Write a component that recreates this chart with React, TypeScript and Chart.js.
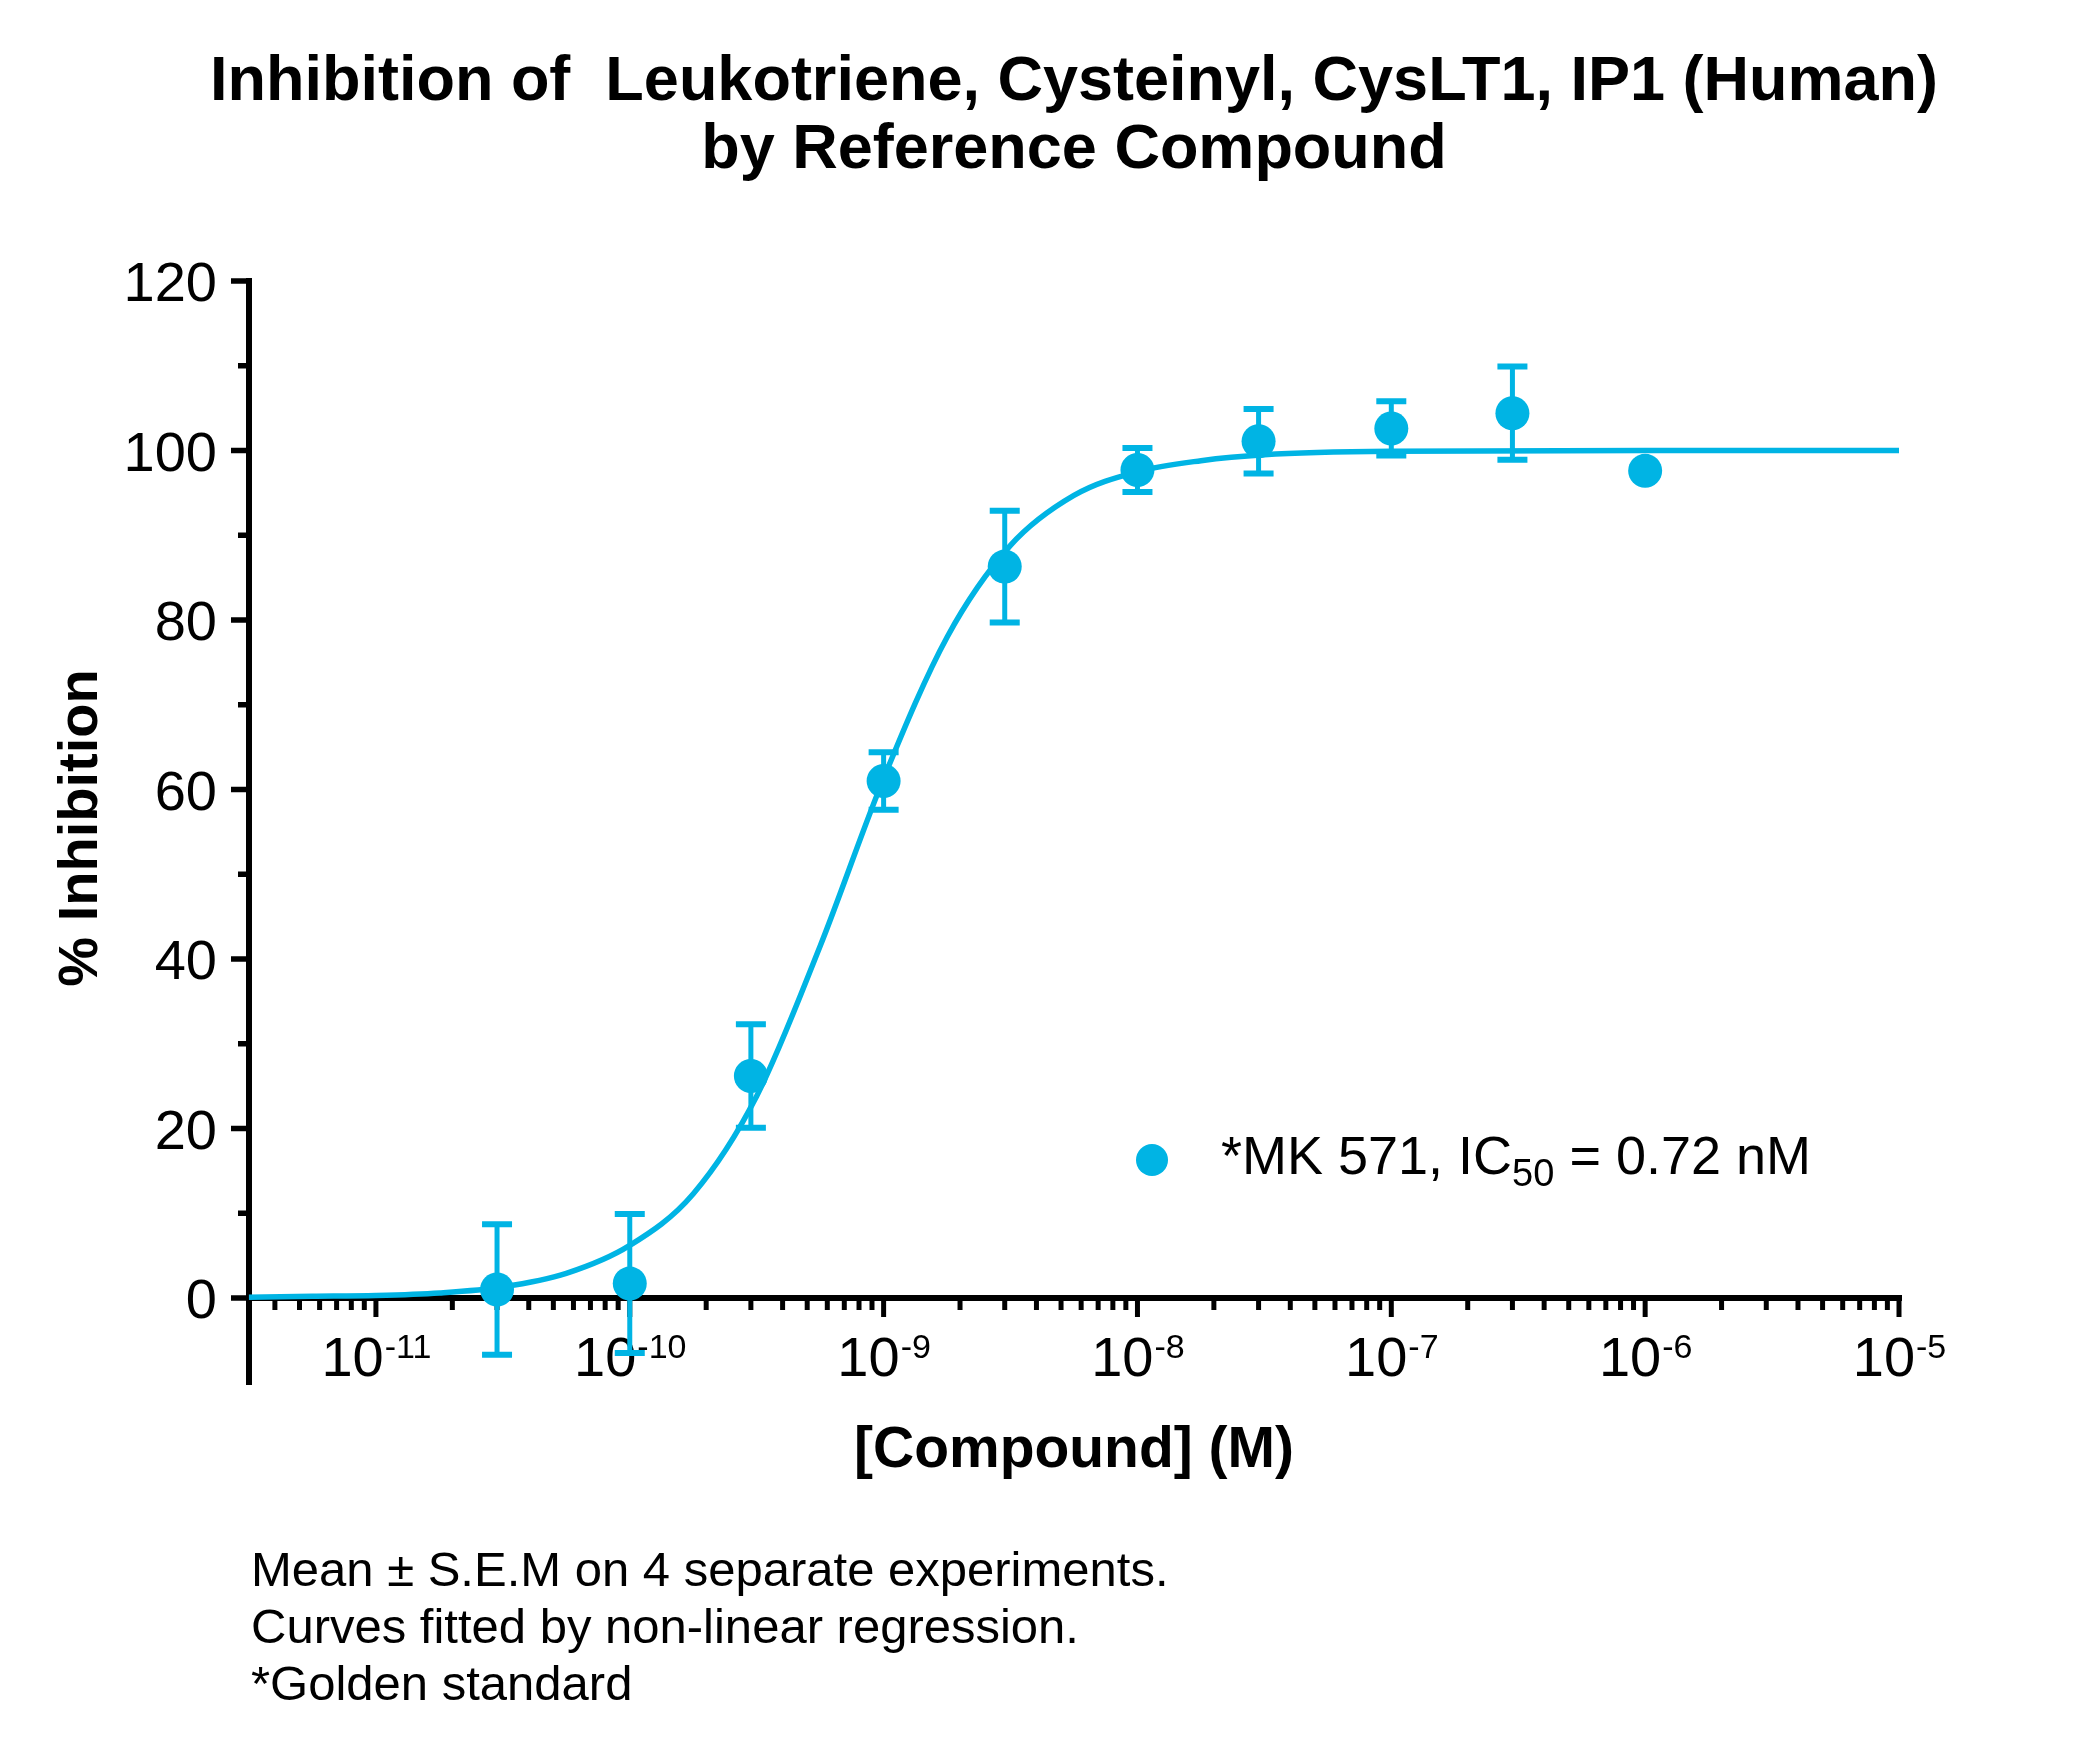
import React, { useEffect, useRef } from "react";
import { Chart, registerables } from "chart.js";

Chart.register(...registerables);

// ---------- data ----------
const titleLines = [
  "Inhibition of  Leukotriene, Cysteinyl, CysLT1, IP1 (Human)",
  "by Reference Compound",
];
const xAxisTitle = "[Compound] (M)";
const yAxisTitle = "% Inhibition";
const footnotes = [
  "Mean \u00B1 S.E.M on 4 separate experiments.",
  "Curves fitted by non-linear regression.",
  "*Golden standard",
];
const seriesName = "*MK 571";
const ic50Label = "0.72 nM";

// measured concentrations (M), mean % inhibition and S.E.M.
const concentrations = [3e-11, 1e-10, 3e-10, 1e-9, 3e-9, 1e-8, 3e-8, 1e-7, 3e-7, 1e-6];
const meanInhibition = [1.0, 1.7, 26.2, 61.0, 86.3, 97.7, 101.1, 102.6, 104.4, 97.6];
const semInhibition = [7.7, 8.2, 6.1, 3.4, 6.6, 2.6, 3.8, 3.2, 5.5, 0];

// fitted curve
const curveConcentrations = [
  3.16e-12, 5.62e-12, 1e-11, 1.78e-11, 3.16e-11, 5.62e-11, 1e-10, 1.78e-10, 3.16e-10,
  5.62e-10, 1e-9, 1.78e-9, 3.16e-9, 5.62e-9, 1e-8, 1.78e-8, 3.16e-8, 1e-7, 1e-6, 1e-5,
];
const curveInhibition = [
  0.1, 0.2, 0.3, 0.6, 1.3, 2.9, 6.2, 12.3, 23.8, 41.5, 61.3, 78.0, 88.8, 94.7, 97.5, 98.8,
  99.5, 99.9, 100, 100,
];

// axis ticks
const xMin = 3.1623e-12;
const xMax = 1e-5;
const xMajorExponents = [-11, -10, -9, -8, -7, -6, -5];
const xMinorMultipliers = [2, 3, 4, 5, 6, 7, 8, 9];
const yMin = 0;
const yMax = 120;
const yMajorTicks = [0, 20, 40, 60, 80, 100, 120];
const yMinorTicks = [10, 30, 50, 70, 90, 110];

// ---------- styles ----------
const COLOR = "rgb(0,180,228)";
const FONT = "'Liberation Sans', Arial, Helvetica, sans-serif";
const W = 2079;
const H = 1752;

const decorPlugin = {
  id: "decor",
  beforeDatasetsDraw(chart: any) {
    const ctx = chart.ctx as CanvasRenderingContext2D;
    const xs = chart.scales.x;
    const ys = chart.scales.y;
    const x0 = xs.getPixelForValue(xMin);
    const x1 = xs.getPixelForValue(xMax);
    const y0 = ys.getPixelForValue(yMin);
    const yTop = ys.getPixelForValue(yMax);
    ctx.save();
    ctx.strokeStyle = "#000";
    ctx.lineCap = "butt";

    // y axis line (extends below the x axis)
    ctx.lineWidth = 6;
    ctx.beginPath();
    ctx.moveTo(x0, yTop - 3);
    ctx.lineTo(x0, y0 + 87);
    ctx.stroke();
    // x axis line
    ctx.beginPath();
    ctx.moveTo(x0, y0);
    ctx.lineTo(x1 + 3, y0);
    ctx.stroke();

    // y ticks
    ctx.lineWidth = 5.5;
    for (const v of yMajorTicks) {
      const p = ys.getPixelForValue(v);
      ctx.beginPath();
      ctx.moveTo(x0, p);
      ctx.lineTo(x0 - 18, p);
      ctx.stroke();
    }
    for (const v of yMinorTicks) {
      const p = ys.getPixelForValue(v);
      ctx.beginPath();
      ctx.moveTo(x0, p);
      ctx.lineTo(x0 - 11, p);
      ctx.stroke();
    }
    // x ticks
    ctx.lineWidth = 5;
    for (const e of xMajorExponents) {
      const p = xs.getPixelForValue(Math.pow(10, e));
      ctx.beginPath();
      ctx.moveTo(p, y0);
      ctx.lineTo(p, y0 + 19);
      ctx.stroke();
    }
    for (let e = -12; e < -5; e++) {
      for (const m of xMinorMultipliers) {
        const v = m * Math.pow(10, e);
        if (v < xMin || v > xMax) continue;
        const p = xs.getPixelForValue(v);
        ctx.beginPath();
        ctx.moveTo(p, y0);
        ctx.lineTo(p, y0 + 12);
        ctx.stroke();
      }
    }

    // y tick labels
    ctx.fillStyle = "#000";
    ctx.font = `56px ${FONT}`;
    ctx.textAlign = "right";
    ctx.textBaseline = "alphabetic";
    for (const v of yMajorTicks) {
      const p = ys.getPixelForValue(v);
      ctx.fillText(String(v), x0 - 32, p + 20);
    }
    // x tick labels 10^n
    ctx.textAlign = "left";
    for (const e of xMajorExponents) {
      const p = xs.getPixelForValue(Math.pow(10, e));
      ctx.font = `56px ${FONT}`;
      const w1 = ctx.measureText("10").width;
      ctx.font = `34px ${FONT}`;
      const sup = String(e);
      const w2 = ctx.measureText(sup).width;
      const start = p - (w1 + w2) / 2;
      ctx.font = `56px ${FONT}`;
      ctx.fillText("10", start, y0 + 78);
      ctx.font = `34px ${FONT}`;
      ctx.fillText(sup, start + w1 + 1, y0 + 60);
    }

    // error bars
    ctx.strokeStyle = COLOR;
    for (let i = 0; i < concentrations.length; i++) {
      const s = semInhibition[i];
      if (!s) continue;
      const px = xs.getPixelForValue(concentrations[i]);
      const pTop = ys.getPixelForValue(meanInhibition[i] + s);
      const pBot = ys.getPixelForValue(meanInhibition[i] - s);
      ctx.lineWidth = 5;
      ctx.beginPath();
      ctx.moveTo(px, pTop);
      ctx.lineTo(px, pBot);
      ctx.stroke();
      ctx.lineWidth = 6;
      ctx.beginPath();
      ctx.moveTo(px - 15, pTop);
      ctx.lineTo(px + 15, pTop);
      ctx.moveTo(px - 15, pBot);
      ctx.lineTo(px + 15, pBot);
      ctx.stroke();
    }
    ctx.restore();
  },
  afterDraw(chart: any) {
    const ctx = chart.ctx as CanvasRenderingContext2D;
    const area = chart.chartArea;
    const cx = (area.left + area.right) / 2;
    ctx.save();
    ctx.fillStyle = "#000";
    ctx.textBaseline = "alphabetic";

    // title
    ctx.textAlign = "center";
    ctx.font = `bold 63px ${FONT}`;
    ctx.fillText(titleLines[0], cx, 100);
    ctx.fillText(titleLines[1], cx, 168);

    // x axis title
    ctx.font = `bold 57px ${FONT}`;
    ctx.fillText(xAxisTitle, cx, 1467);

    // y axis title
    ctx.save();
    ctx.translate(97, 828);
    ctx.rotate(-Math.PI / 2);
    ctx.font = `bold 56px ${FONT}`;
    ctx.fillText(yAxisTitle, 0, 0);
    ctx.restore();

    // footnotes
    ctx.textAlign = "left";
    ctx.font = `49px ${FONT}`;
    footnotes.forEach((t, i) => ctx.fillText(t, 251, 1586 + i * 57));

    // legend
    ctx.fillStyle = COLOR;
    ctx.beginPath();
    ctx.arc(1152, 1160, 16, 0, Math.PI * 2);
    ctx.fill();
    ctx.fillStyle = "#000";
    let tx = 1221;
    ctx.font = `54px ${FONT}`;
    const a = `${seriesName}, IC`;
    ctx.fillText(a, tx, 1174);
    tx += ctx.measureText(a).width;
    ctx.font = `38px ${FONT}`;
    ctx.fillText("50", tx, 1186);
    tx += ctx.measureText("50").width;
    ctx.font = `54px ${FONT}`;
    ctx.fillText(` = ${ic50Label}`, tx, 1174);
    ctx.restore();
  },
};

export default function App() {
  const ref = useRef<HTMLCanvasElement | null>(null);
  useEffect(() => {
    document.body.style.margin = "0";
    if (!ref.current) return;
    const chart = new Chart(ref.current, {
      type: "scatter",
      data: {
        datasets: [
          {
            type: "scatter",
            label: seriesName,
            data: concentrations.map((x, i) => ({ x, y: meanInhibition[i] })),
            pointRadius: 17,
            pointHoverRadius: 17,
            backgroundColor: COLOR,
            borderWidth: 0,
            clip: false,
          } as any,
          {
            type: "line",
            label: "fit",
            data: curveConcentrations.map((x, i) => ({ x, y: curveInhibition[i] })),
            borderColor: COLOR,
            borderWidth: 5.5,
            pointRadius: 0,
            fill: false,
            cubicInterpolationMode: "monotone",
            clip: false,
          } as any,
        ],
      },
      options: {
        responsive: false,
        animation: false,
        devicePixelRatio: 1,
        events: [],
        layout: { padding: { left: 249, right: 180, top: 281, bottom: 454 } },
        scales: {
          x: { type: "logarithmic", min: xMin, max: xMax, display: false },
          y: { type: "linear", min: yMin, max: yMax, display: false },
        },
        plugins: {
          legend: { display: false },
          tooltip: { enabled: false },
          title: { display: false },
        },
      },
      plugins: [decorPlugin],
    });
    return () => chart.destroy();
  }, []);
  return (
    <div style={{ position: "absolute", left: 0, top: 0, width: W, height: H, background: "#fff" }}>
      <canvas ref={ref} width={W} height={H} style={{ width: W, height: H, display: "block" }} />
    </div>
  );
}
